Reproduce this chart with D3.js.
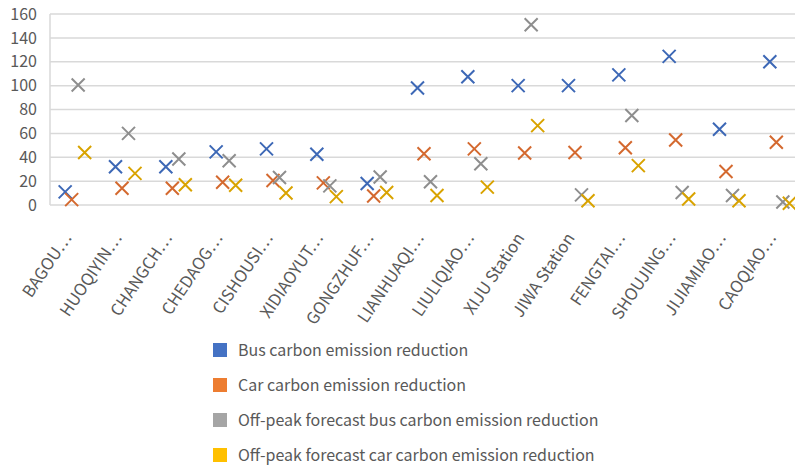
<!DOCTYPE html>
<html>
<head>
<meta charset="utf-8">
<script src="https://cdn.jsdelivr.net/npm/d3@7"></script>
<style>
  body { margin: 0; background: #fff; }
  svg { display: block; font-family: "Noto Sans CJK SC", "Noto Sans", sans-serif; }
</style>
</head>
<body>
<script>
// station names as shown (excel truncates the long ones)
var stations = ["BAGOU…", "HUOQIYIN…", "CHANGCH…", "CHEDAOG…", "CISHOUSI…", "XIDIAOYUT…",
  "GONGZHUF…", "LIANHUAQI…", "LIULIQIAO…", "XIJU Station", "JIWA Station", "FENGTAI…",
  "SHOUJING…", "JIJIAMIAO…", "CAOQIAO…"];

var busReduction      = [11, 32, 32, 44.5, 47, 42.5, 18, 98, 107.5, 100, 100, 109, 124.5, 63.5, 120];
var carReduction      = [4.5, 14, 14, 19, 20.5, 18.5, 7.5, 43, 47, 43.5, 44, 48, 54.5, 28, 52.5];
var offPeakBus        = [100.5, 60, 38.5, 37, 23, 16, 23.5, 19.5, 34.5, 151, 8.5, 75, 10.5, 8, 2.5];
var offPeakCar        = [44, 26.5, 17, 16.5, 10, 7, 10.5, 8, 15, 66.5, 3.5, 33, 5, 3.5, 1.5];

var seriesNames = ["Bus carbon emission reduction", "Car carbon emission reduction",
  "Off-peak forecast bus carbon emission reduction", "Off-peak forecast car carbon emission reduction"];
var yTicks = [0, 20, 40, 60, 80, 100, 120, 140, 160];

var series = [busReduction, carReduction, offPeakBus, offPeakCar];
var fills = ["#4472C4", "#ED7D31", "#A5A5A5", "#FFC000"];
var marks = ["#3D68B6", "#D4692F", "#8E8E8E", "#D9A300"];

var W = 795, H = 469;
// plot area runs past the right edge, the picture is cropped there
var plotL = 50, plotR = 805, plotT = 14, plotB = 205;

var svg = d3.select("body").append("svg")
  .attr("width", W)
  .attr("height", H);

var x = d3.scaleBand().domain(d3.range(stations.length)).range([plotL, plotR]);
var inner = d3.scalePoint().domain(d3.range(series.length)).range([-10, 9.5]);
var y = d3.scaleLinear().domain([0, 160]).range([plotB, plotT]);

// grid
svg.append("g").selectAll("line")
  .data(yTicks)
  .enter().append("line")
  .attr("x1", plotL).attr("x2", W)
  .attr("y1", function(d){ return y(d); })
  .attr("y2", function(d){ return y(d); })
  .attr("stroke", "#D9D9D9")
  .attr("stroke-width", 1.5);

svg.append("line")
  .attr("x1", plotL).attr("x2", plotL)
  .attr("y1", plotT).attr("y2", plotB)
  .attr("stroke", "#D9D9D9")
  .attr("stroke-width", 1.5);

// y axis labels
var yAxis = d3.axisLeft(y).tickValues(yTicks).tickSize(0).tickPadding(13);
svg.append("g")
  .attr("transform", "translate(" + plotL + ",0)")
  .call(yAxis)
  .call(function(g){ g.select(".domain").remove(); })
  .selectAll("text")
  .attr("font-size", 16)
  .attr("font-family", "\"Noto Sans CJK SC\", sans-serif")
  .attr("fill", "#595959");

// x axis labels
var xAxis = d3.axisBottom(x).tickFormat(function(i){ return stations[i]; }).tickSize(0).tickPadding(0);
svg.append("g")
  .attr("transform", "translate(0," + plotB + ")")
  .call(xAxis)
  .call(function(g){ g.select(".domain").remove(); })
  .selectAll("text")
  .attr("font-size", 16.5)
  .attr("font-family", "\"Noto Sans CJK SC\", sans-serif")
  .attr("fill", "#595959")
  .attr("text-anchor", "end")
  .attr("y", 0)
  .attr("dy", 0)
  .attr("transform", "translate(-3,33) rotate(-56)");

// markers
var s = 6.5;
series.forEach(function(vals, k){
  var g = svg.append("g").attr("stroke", marks[k]).attr("stroke-width", 2);
  g.selectAll("path")
    .data(vals)
    .enter().append("path")
    .attr("transform", function(d, i){
      return "translate(" + (x(i) + x.bandwidth() / 2 + inner(k)) + "," + y(d) + ")";
    })
    .attr("d", "M" + (-s) + "," + (-s) + "L" + s + "," + s + "M" + (-s) + "," + s + "L" + s + "," + (-s));
});

// legend
var legend = svg.append("g").attr("transform", "translate(213,350)");
var rows = legend.selectAll("g")
  .data(seriesNames)
  .enter().append("g")
  .attr("transform", function(d, i){ return "translate(0," + (i * 35) + ")"; });

rows.append("rect")
  .attr("x", 0).attr("y", -7)
  .attr("width", 14).attr("height", 14)
  .attr("fill", function(d, i){ return fills[i]; });

rows.append("text")
  .attr("x", 25)
  .attr("dy", "0.35em")
  .attr("font-size", 16)
  .attr("fill", "#595959")
  .text(function(d){ return d; });
</script>
</body>
</html>
